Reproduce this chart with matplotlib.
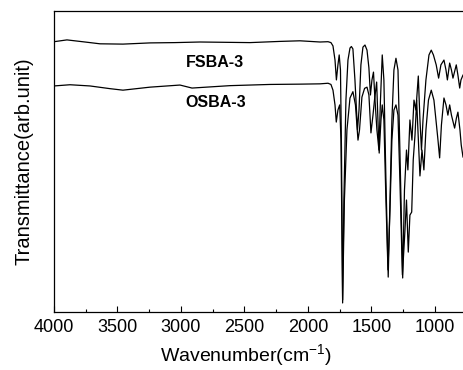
import numpy as np
import matplotlib.pyplot as plt
from matplotlib.ticker import MultipleLocator

plt.rcParams['font.family'] = ['Liberation Sans', 'DejaVu Sans']

# FSBA-3 spectrum (wavenumber cm-1, transmittance arb. unit)
fsba_wn = [4000, 3898, 3756, 3638, 3457, 3244, 3047, 2850, 2457, 2220, 2063, 1905,
           1842, 1819, 1803, 1787, 1776, 1764, 1754, 1744, 1736, 1727, 1717, 1701,
           1685, 1669, 1658, 1646, 1630, 1610, 1598, 1583, 1567, 1551, 1535, 1520,
           1508, 1496, 1484, 1472, 1457, 1441, 1429, 1415, 1402, 1386, 1368, 1354,
           1339, 1323, 1307, 1291, 1276, 1254, 1240, 1224, 1213, 1197, 1181, 1165,
           1150, 1131, 1118, 1106, 1094, 1071, 1047, 1029, 1012, 990, 971, 953,
           929, 913, 902, 884, 870, 858, 832, 819, 805, 795, 779]
fsba_t = [89.8, 90.4, 89.7, 89.1, 89.0, 89.4, 89.5, 89.7, 89.5, 89.9, 90.1, 89.7,
          89.8, 89.5, 88.4, 83.7, 77.1, 82.1, 85.4, 80.4, 53.8, 3.0, 37.2, 70.4,
          83.7, 87.7, 88.2, 87.4, 77.1, 60.5, 67.1, 82.1, 88.0, 88.7, 87.0, 81.1,
          72.1, 77.1, 79.7, 70.4, 60.5, 53.8, 70.4, 85.4, 77.1, 43.9, 11.6, 37.2,
          63.8, 80.4, 84.3, 80.4, 53.8, 11.3, 40.5, 53.8, 47.2, 63.8, 57.1, 70.4,
          67.1, 78.4, 63.8, 53.8, 63.8, 77.1, 85.4, 87.0, 85.4, 82.1, 77.7, 82.1,
          83.7, 80.4, 77.1, 82.7, 80.4, 77.7, 82.1, 78.7, 74.4, 77.1, 78.7]

# OSBA-3 spectrum
osba_wn = [4000, 3874, 3717, 3559, 3457, 3244, 3008, 2913, 2614, 2299, 2063, 1905,
           1842, 1819, 1803, 1787, 1777, 1764, 1750, 1740, 1727, 1713, 1693, 1669,
           1646, 1626, 1606, 1594, 1575, 1554, 1535, 1520, 1504, 1488, 1476, 1459,
           1449, 1439, 1425, 1415, 1402, 1386, 1370, 1354, 1339, 1323, 1307, 1291,
           1276, 1256, 1236, 1224, 1210, 1197, 1183, 1171, 1157, 1144, 1134, 1118,
           1102, 1087, 1071, 1051, 1029, 1008, 992, 976, 963, 949, 929, 913,
           898, 884, 870, 845, 831, 819, 803, 793, 779]
osba_t = [75.1, 75.5, 75.1, 74.2, 73.7, 74.7, 75.4, 74.4, 75.2, 75.6, 75.7, 75.8,
          76.0, 75.6, 73.7, 68.8, 63.1, 67.1, 68.8, 57.1, 4.0, 37.2, 60.5, 71.1,
          73.2, 68.8, 57.1, 60.5, 71.4, 74.3, 74.7, 72.1, 59.5, 65.4, 70.4, 76.4,
          63.8, 52.8, 63.8, 68.8, 63.8, 37.2, 14.0, 33.9, 57.1, 67.1, 68.8, 65.4,
          43.9, 12.3, 27.2, 37.2, 19.9, 32.2, 33.2, 50.5, 58.8, 70.4, 60.5, 45.2,
          53.8, 47.2, 60.5, 70.4, 73.7, 70.4, 63.8, 57.1, 51.2, 62.1, 71.1, 68.8,
          65.4, 68.8, 65.4, 61.1, 64.4, 66.4, 60.5, 55.5, 51.5]

fig = plt.figure(figsize=(4.63, 3.70), dpi=100)
ax = fig.add_axes([54 / 463, 58 / 370, 409 / 463, 301 / 370])

ax.plot(fsba_wn, fsba_t, color='black', lw=0.9)
ax.plot(osba_wn, osba_t, color='black', lw=0.9)

ax.text(2730, 83.0, 'FSBA-3', fontsize=11.5, fontweight='bold', ha='center', va='center')
ax.text(2730, 69.5, 'OSBA-3', fontsize=11.5, fontweight='bold', ha='center', va='center')

ax.set_xlim(4000, 779)
ax.set_ylim(0, 100)
ax.xaxis.set_major_locator(MultipleLocator(500))
ax.xaxis.set_minor_locator(MultipleLocator(250))
ax.tick_params(axis='x', which='major', direction='in', length=4, width=0.8,
               labelsize=13, pad=5)
ax.tick_params(axis='x', which='minor', direction='in', length=2, width=0.8)
ax.set_yticks([])
ax.spines['right'].set_visible(False)
for s in ['left', 'top', 'bottom']:
    ax.spines[s].set_linewidth(0.9)

ax.set_xlabel('Wavenumber(cm$^{\\mathregular{-1}}$)', fontsize=14, labelpad=5)
ax.xaxis.label.set_x(0.47)
ax.set_ylabel('Transmittance(arb.unit)', fontsize=14.5, labelpad=15)

fig.savefig('out.png', dpi=100)
